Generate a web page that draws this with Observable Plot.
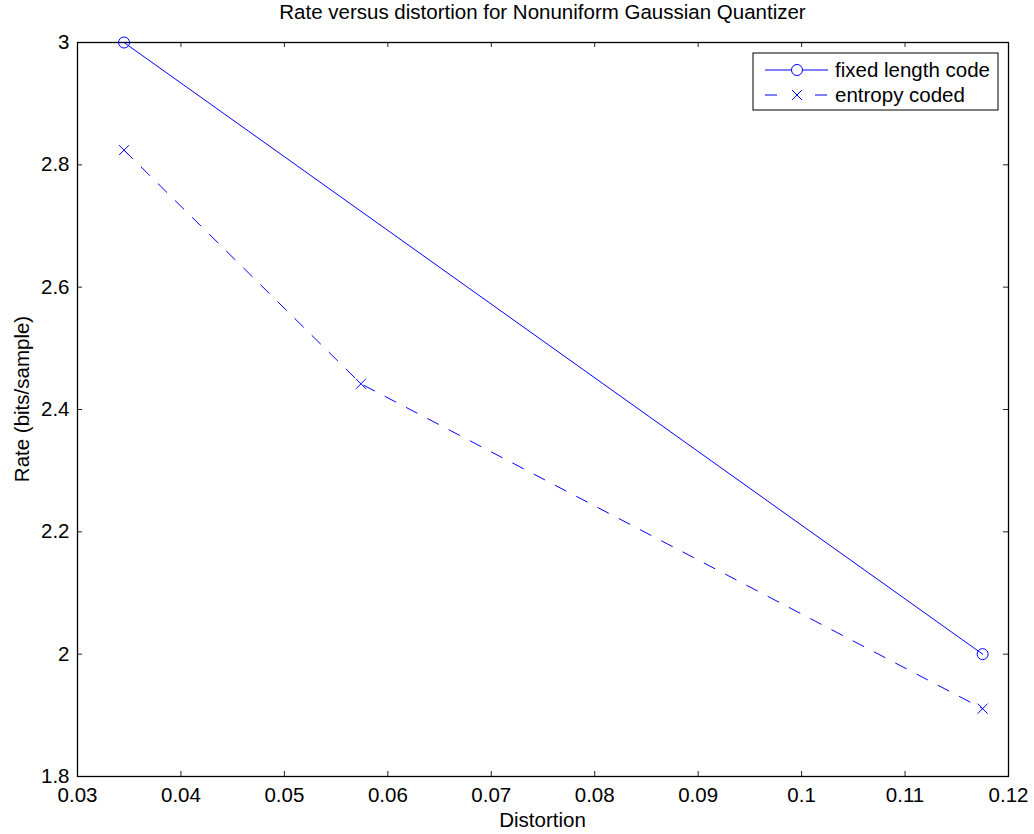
<!DOCTYPE html>
<html><head><meta charset="utf-8">
<script src="https://cdn.jsdelivr.net/npm/d3@7"></script>
<script src="https://cdn.jsdelivr.net/npm/@observablehq/plot@0.6"></script>
<style>body{margin:0;background:#fff} svg{font-family:"Liberation Sans",Arial,Helvetica,sans-serif}</style>
</head><body><div id="chart"></div><script>
const distFixed = [0.0345, 0.1175];
const rateFixed = [3.0, 2.0];
const distEntropy = [0.0345, 0.0574, 0.1175];
const rateEntropy = [2.824, 2.442, 1.911];
const xTicks = [0.03, 0.04, 0.05, 0.06, 0.07, 0.08, 0.09, 0.1, 0.11, 0.12];
const yTicks = [1.8, 2.0, 2.2, 2.4, 2.6, 2.8, 3.0];
const seriesNames = ["fixed length code", "entropy coded"];
const titleText = "Rate versus distortion for Nonuniform Gaussian Quantizer";
const xLabel = "Distortion";
const yLabel = "Rate (bits/sample)";

const fixed = distFixed.map((d, i) => ({x: d, y: rateFixed[i]}));
const entropy = distEntropy.map((d, i) => ({x: d, y: rateEntropy[i]}));

const W = 1034, H = 834, mL = 77, mR = 26, mT = 42, mB = 58;
const pw = W - mL - mR, ph = H - mT - mB, tk = 5, fs = 20.5;
const blue = "#0000ff";

const chart = Plot.plot({
  width: W, height: H,
  marginLeft: mL, marginRight: mR, marginTop: mT, marginBottom: mB,
  style: {fontSize: fs + "px", fontFamily: "'Liberation Sans', Arial, sans-serif", color: "black"},
  x: {domain: [0.03, 0.12]},
  y: {domain: [1.8, 3.0]},
  marks: [
    Plot.tickX(xTicks, {x: d => d, insetTop: ph - tk, stroke: "#222", strokeWidth: 1}),
    Plot.tickX(xTicks, {x: d => d, insetBottom: ph - tk, stroke: "#222", strokeWidth: 1}),
    Plot.tickY(yTicks, {y: d => d, insetRight: pw - tk, stroke: "#222", strokeWidth: 1}),
    Plot.tickY(yTicks, {y: d => d, insetLeft: pw - tk, stroke: "#222", strokeWidth: 1}),
    Plot.axisX({ticks: xTicks, tickSize: 0, tickPadding: 11, label: null, fill: "black", fontSize: fs,
      tickFormat: d => String(+d.toFixed(2))}),
    Plot.axisY({ticks: yTicks, tickSize: 0, tickPadding: 8, label: null, fill: "black", fontSize: fs,
      tickFormat: d => String(+d.toFixed(1))}),
    Plot.frame({stroke: "black", strokeWidth: 1.3}),
    Plot.line(fixed, {x: "x", y: "y", stroke: blue, strokeWidth: 1}),
    Plot.dot(fixed, {x: "x", y: "y", r: 5.5, stroke: blue, fill: "none", strokeWidth: 1}),
    Plot.line(entropy, {x: "x", y: "y", stroke: blue, strokeWidth: 1, strokeDasharray: "12,12"}),
    Plot.dot(entropy, {x: "x", y: "y", symbol: "times", r: 4.6, stroke: blue, strokeWidth: 1})
  ]
});

const svg = d3.select(chart);
svg.append("text").attr("x", mL + pw / 2).attr("y", 19).attr("text-anchor", "middle")
  .attr("font-size", fs).attr("fill", "black").text(titleText);
svg.append("text").attr("x", mL + pw / 2).attr("y", 827).attr("text-anchor", "middle")
  .attr("font-size", fs).attr("fill", "black").text(xLabel);
svg.append("text").attr("transform", "translate(29,399) rotate(-90)").attr("text-anchor", "middle")
  .attr("font-size", fs).attr("fill", "black").text(yLabel);

// legend
const lg = svg.append("g");
lg.append("rect").attr("x", 753).attr("y", 53).attr("width", 245).attr("height", 57)
  .attr("fill", "white").attr("stroke", "black").attr("stroke-width", 1);
const rows = [70, 95];
lg.append("line").attr("x1", 765).attr("x2", 828).attr("y1", rows[0]).attr("y2", rows[0]).attr("stroke", blue);
lg.append("circle").attr("cx", 797).attr("cy", rows[0]).attr("r", 5.5).attr("fill", "white").attr("stroke", blue);
lg.append("line").attr("x1", 765).attr("x2", 828).attr("y1", rows[1]).attr("y2", rows[1]).attr("stroke", blue)
  .attr("stroke-dasharray", "12,38");
lg.append("path").attr("transform", `translate(797,${rows[1]})`).attr("d", d3.symbol(d3.symbolTimes, Math.PI * 4.6 * 4.6)())
  .attr("fill", "none").attr("stroke", blue);
seriesNames.forEach((n, i) => lg.append("text").attr("x", 835).attr("y", rows[i]).attr("dy", "0.35em")
  .attr("text-anchor", "start").attr("font-size", fs).attr("fill", "black").text(n));

document.getElementById("chart").appendChild(chart);
</script></body></html>
